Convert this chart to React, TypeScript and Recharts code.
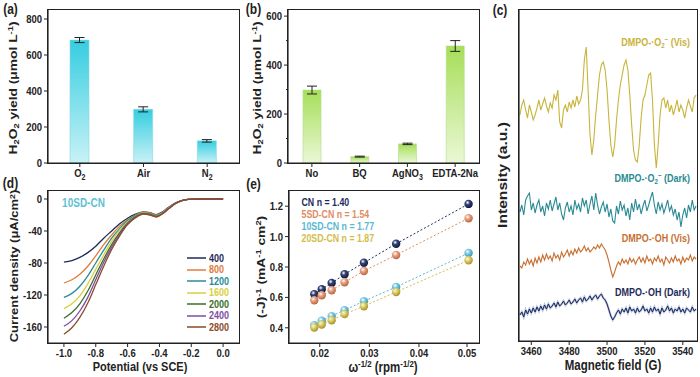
import React from "react";
import {
    BarChart,
    Bar,
    ErrorBar,
    LineChart,
    Line,
    XAxis,
    YAxis,
    Legend,
} from "recharts";

const FONT = "'Liberation Sans', Arial, Helvetica, sans-serif";
const INK = "#222";
// text in the source figure is drawn a bit taller than wide
const STRETCH = 1.2;

// (a) H2O2 yield under different atmospheres
const gasNames = ["O2", "Air", "N2"];
const gasYield = [683, 298, 123];
const gasErr = [14, 14, 7];

// (b) scavenger experiments
const scavNames = ["No", "BQ", "AgNO3", "EDTA-2Na"];
const scavYield = [298, 26, 78, 478];
const scavErr = [16, 2, 3, 22];

// (c) EPR spectra, stacked (a.u.)
const field = [
    3454, 3455, 3456, 3457, 3458, 3459, 3460, 3461, 3462, 3463,
    3464, 3465, 3466, 3467, 3468, 3469, 3470, 3471, 3472, 3473,
    3474, 3475, 3476, 3477, 3478, 3479, 3480, 3481, 3482, 3483,
    3484, 3485, 3486, 3487, 3488, 3489, 3490, 3491, 3492, 3493,
    3494, 3495, 3496, 3497, 3498, 3499, 3500, 3501, 3502, 3503,
    3504, 3505, 3506, 3507, 3508, 3509, 3510, 3511, 3512, 3513,
    3514, 3515, 3516, 3517, 3518, 3519, 3520, 3521, 3522, 3523,
    3524, 3525, 3526, 3527, 3528, 3529, 3530, 3531, 3532, 3533,
    3534, 3535, 3536, 3537, 3538, 3539, 3540, 3541, 3542, 3543,
    3544, 3545, 3546, 3547,
];
const o2Vis = [
    226, 236, 241, 231, 223, 236, 229, 221, 226, 233,
    241, 231, 237, 243, 235, 229, 238, 233, 246, 241,
    251, 219, 213, 231, 236, 229, 239, 233, 241, 234,
    245, 237, 241, 251, 281, 294, 251, 206, 186, 201,
    226, 246, 266, 276, 279, 271, 251, 221, 196, 184,
    196, 221, 241, 256, 266, 276, 281, 271, 246, 216,
    191, 181, 179, 196, 223, 241, 246, 256, 266, 268,
    241, 196, 173, 196, 226, 241, 243, 233, 241, 229,
    236, 226, 233, 241, 229, 236, 231, 223, 233, 241,
    235, 229, 243, 246,
];
const o2Dark = [
    129, 136, 126, 141, 145, 148, 131, 138, 128, 136,
    141, 129, 135, 125, 138, 132, 141, 130, 137, 144,
    131, 138, 127, 121, 133, 139, 129, 135, 126, 141,
    132, 137, 129, 143, 135, 141, 127, 137, 145, 131,
    148, 136, 127, 134, 139, 129, 137, 124, 132, 120,
    118, 135, 127, 140, 131, 136, 125, 133, 121, 138,
    129, 142, 131, 137, 127, 135, 141, 130, 136, 143,
    149, 136, 127, 139, 131, 137, 128, 134, 141, 130,
    135, 126, 132, 121, 129, 114, 126, 133, 123, 136,
    129, 141, 131, 135,
];
const ohVis = [
    75, 73, 79, 76, 82, 77, 81, 75, 83, 78,
    84, 79, 86, 81, 87, 82, 85, 80, 88, 83,
    86, 81, 89, 84, 87, 91, 85, 90, 86, 92,
    88, 93, 89, 91, 95, 90, 93, 89, 91, 94,
    92, 96, 93, 97, 94, 91, 86, 79, 71, 64,
    69, 75, 79, 76, 82, 78, 81, 77, 83, 79,
    82, 77, 81, 84, 79, 83, 78, 85, 80, 82,
    77, 83, 80, 85, 79, 82, 76, 84, 81, 78,
    83, 79, 85, 80, 82, 77, 84, 79, 83, 81,
    86, 80, 84, 82,
];
const ohDark = [
    26, 29, 24, 31, 27, 32, 28, 33, 29, 34,
    30, 35, 31, 36, 32, 37, 33, 35, 38, 34,
    39, 35, 37, 40, 36, 38, 41, 37, 39, 42,
    38, 41, 43, 39, 44, 40, 42, 45, 41, 44,
    46, 42, 45, 47, 43, 41, 37, 31, 25, 21,
    24, 28, 31, 27, 32, 29, 33, 28, 34, 30,
    32, 28, 33, 29, 31, 35, 30, 32, 28, 33,
    29, 34, 30, 32, 27, 33, 29, 31, 35, 30,
    33, 28, 32, 30, 34, 29, 32, 28, 33, 31,
    29, 34, 30, 32,
];

// (d) LSV of 10SD-CN at different rotation speeds
const potential = [
    -1.0, -0.95, -0.9, -0.85, -0.8, -0.75, -0.7, -0.65, -0.6, -0.55, -0.5,
    -0.46, -0.42, -0.38, -0.34, -0.3, -0.26, -0.22, -0.15, -0.05, 0.0,
];
const rpm = [400, 800, 1200, 1600, 2000, 2400, 2800];
const j400 = [-79, -77, -73, -67, -59, -49, -40, -31, -24, -19, -16, -17, -19.5, -16, -10, -5, -2, -0.5, 0, 0, 0];
const j800 = [-105, -101, -94, -84, -71, -57, -45, -34, -26, -20, -16.5, -17.5, -20, -16.5, -10.5, -5, -2, -0.5, 0, 0, 0];
const j1200 = [-123, -118, -109, -96, -80, -64, -49, -37, -27, -20.5, -17, -18, -20.5, -17, -11, -5.5, -2, -0.5, 0, 0, 0];
const j1600 = [-137, -131, -121, -106, -88, -70, -53, -39, -28.5, -21.5, -17.5, -18.5, -21, -17.5, -11, -5.5, -2, -0.5, 0, 0, 0];
const j2000 = [-149, -142, -131, -115, -95, -75, -57, -42, -30, -22, -18, -19, -21.5, -18, -11.5, -5.5, -2, -0.5, 0, 0, 0];
const j2400 = [-159, -152, -140, -123, -101, -79, -60, -44, -31, -23, -18.5, -19.5, -22, -18, -11.5, -5.5, -2, -0.5, 0, 0, 0];
const j2800 = [-169, -161, -148, -130, -107, -84, -63, -46, -32, -23.5, -19, -20, -22.5, -18.5, -12, -6, -2, -0.5, 0, 0, 0];
const lsvColors = ["#1f2a5a", "#e07c3c", "#2a8c98", "#d8d040", "#3a6e2a", "#7e4fa0", "#8c4a28"];

// (e) K-L plots
const omega = [0.0189, 0.0204, 0.0224, 0.025, 0.0289, 0.0354, 0.05];
const klSamples = ["CN", "5SD-CN", "10SD-CN", "20SD-CN"];
const klN = [1.4, 1.54, 1.77, 1.87];
const klCN = [0.621, 0.654, 0.695, 0.752, 0.828, 0.953, 1.215];
const kl5 = [0.581, 0.614, 0.647, 0.7, 0.774, 0.879, 1.121];
const kl10 = [0.417, 0.446, 0.477, 0.516, 0.575, 0.669, 0.892];
const kl20 = [0.402, 0.422, 0.45, 0.49, 0.542, 0.636, 0.844];
const klColors = ["#1e2b5c", "#e08c64", "#5ab8d0", "#d2be4c"];
const klBall = [
    ["#34447a", "#111a3c"],
    ["#eaa486", "#b8683f"],
    ["#80cde2", "#3a96b4"],
    ["#e2d06a", "#a8942c"],
];

const gasData = gasNames.map((name, i) => ({ name, value: gasYield[i], err: gasErr[i] }));
const scavData = scavNames.map((name, i) => ({ name, value: scavYield[i], err: scavErr[i] }));
const eprData = field.map((g, i) => ({
    g,
    o2Vis: o2Vis[i],
    o2Dark: o2Dark[i],
    ohVis: ohVis[i],
    ohDark: ohDark[i],
}));
const lsvSeries = [j400, j800, j1200, j1600, j2000, j2400, j2800];
const lsvData = potential.map((e, i) => {
    const row: Record<string, number> = { e };
    rpm.forEach((r, k) => (row["r" + r] = lsvSeries[k][i]));
    return row;
});
const klSeries = [klCN, kl5, kl10, kl20];
const klData = omega.map((w, i) => {
    const row: Record<string, number> = { w };
    klSeries.forEach((s, k) => (row["s" + k] = s[i]));
    return row;
});

// panel layouts: chart box, y-axis width, x-axis height
interface Panel {
    left: number;
    top: number;
    w: number;
    h: number;
    yw: number;
    xh: number;
}
const MT = 10;
const MR = 2;
const panelA: Panel = { left: 0, top: 0, w: 241, h: 190, yw: 48, xh: 27 };
const panelB: Panel = { left: 240, top: 0, w: 241, h: 190, yw: 48, xh: 27 };
const panelC: Panel = { left: 481, top: 0, w: 218, h: 377, yw: 38, xh: 36 };
const panelD: Panel = { left: 0, top: 181, w: 241, h: 196, yw: 48, xh: 34 };
const panelE: Panel = { left: 241, top: 181, w: 240, h: 196, yw: 48, xh: 34 };
const margin = { top: MT, right: MR, left: 0, bottom: 0 };

const axisStyle = { stroke: INK, strokeWidth: 1.2 };

// closed frame round a plot area
const PlotBox: React.FC<{ p: Panel }> = ({ p }) => (
    <div
        style={{
            position: "absolute",
            left: p.left + p.yw - 0.6,
            top: p.top + MT - 0.6,
            width: p.w - p.yw - MR + 1.2,
            height: p.h - MT - p.xh + 1.2,
            border: `1.2px solid ${INK}`,
            boxSizing: "border-box",
            pointerEvents: "none",
        }}
    />
);

const isMajor = (majors: number[], v: number) =>
    majors.some((m) => Math.abs(m - v) < 1e-9);

const tickText = (x: number, y: number, anchor: string, dy: string, content: React.ReactNode) => (
    <text
        transform={`translate(${x},${y}) scale(1,${STRETCH})`}
        textAnchor={anchor}
        dy={dy}
        fontSize={9.5}
        fontWeight="bold"
        fontFamily={FONT}
        fill={INK}
    >
        {content}
    </text>
);

// left axis tick: recharts gives the label position (axis - tickSize - tickMargin)
const leftTick = (majors: number[], fmt: (v: number) => string) => (p: any) => {
    const v = p.payload.value;
    const major = isMajor(majors, v);
    const ax = p.x + 6;
    return (
        <g>
            <line x1={ax} x2={ax - (major ? 4 : 2)} y1={p.y} y2={p.y} stroke={INK} strokeWidth={1} />
            {major && tickText(ax - 6, p.y, "end", "0.35em", fmt(v))}
        </g>
    );
};

const bottomTick = (majors: number[], fmt: (v: number) => string) => (p: any) => {
    const v = p.payload.value;
    const major = isMajor(majors, v);
    const ay = p.y - 6;
    return (
        <g>
            <line x1={p.x} x2={p.x} y1={ay} y2={ay + (major ? 4 : 2)} stroke={INK} strokeWidth={1} />
            {major && tickText(p.x, ay + 6, "middle", "0.71em", fmt(v))}
        </g>
    );
};

const catTick = (p: any) => {
    const label = String(p.payload.value);
    const m = label.match(/^(.*\D)(\d)$/);
    const ay = p.y - 6;
    return (
        <g>
            <line x1={p.x} x2={p.x} y1={ay} y2={ay + 4} stroke={INK} strokeWidth={1} />
            {tickText(
                p.x,
                ay + 6,
                "middle",
                "0.71em",
                m ? (
                    <>
                        <tspan>{m[1]}</tspan>
                        <tspan fontSize={7} dy={2.5}>
                            {m[2]}
                        </tspan>
                    </>
                ) : (
                    label
                )
            )}
        </g>
    );
};

const Sub = ({ children }: { children: React.ReactNode }) => (
    <span style={{ fontSize: "0.68em", position: "relative", top: "0.3em" }}>{children}</span>
);
const Sup = ({ children }: { children: React.ReactNode }) => (
    <span style={{ fontSize: "0.68em", position: "relative", top: "-0.45em" }}>{children}</span>
);

interface TxtProps {
    x: number;
    y: number;
    size: number;
    rot?: boolean;
    anchor?: "start" | "middle" | "end";
    color?: string;
    children: React.ReactNode;
}

const Txt: React.FC<TxtProps> = ({ x, y, size, rot, anchor = "middle", color = INK, children }) => {
    const tx = anchor === "middle" ? "-50%" : anchor === "end" ? "-100%" : "0";
    return (
        <div style={{ position: "absolute", left: x, top: y, width: 0, height: 0 }}>
            <div
                style={{
                    position: "absolute",
                    left: 0,
                    top: 0,
                    whiteSpace: "nowrap",
                    transformOrigin: "0 0",
                    transform: `scaleY(${STRETCH}) ${rot ? "rotate(-90deg) " : ""}translate(${tx},-50%)`,
                    font: `bold ${size}px ${FONT}`,
                    lineHeight: 1,
                    color,
                }}
            >
                {children}
            </div>
        </div>
    );
};

const Frame: React.FC<{ p: Panel; children: React.ReactNode }> = ({ p, children }) => (
    <div style={{ position: "absolute", left: p.left, top: p.top }}>{children}</div>
);

const YieldBars: React.FC<{
    p: Panel;
    data: { name: string; value: number; err: number }[];
    max: number;
    majors: number[];
    minors: number[];
    gradId: string;
    top: string;
    bottom: string;
    edge: string;
    barSize: number;
}> = ({ p, data, max, majors, minors, gradId, top, bottom, edge, barSize }) => (
    <BarChart width={p.w} height={p.h} data={data} margin={margin}>
        <defs>
            <linearGradient id={gradId} x1="0" y1="0" x2="0" y2="1">
                <stop offset="0%" stopColor={top} />
                <stop offset="100%" stopColor={bottom} />
            </linearGradient>
        </defs>
        <XAxis
            dataKey="name"
            type="category"
            interval={0}
            height={p.xh}
            tickSize={4}
            tickMargin={2}
            tickLine={false}
            axisLine={axisStyle}
            tick={catTick}
        />
        <YAxis
            type="number"
            domain={[0, max]}
            ticks={[...majors, ...minors].sort((a, b) => a - b)}
            width={p.yw}
            tickSize={4}
            tickMargin={2}
            tickLine={false}
            axisLine={axisStyle}
            tick={leftTick(majors, (v) => String(v))}
            allowDataOverflow
        />
        <Bar dataKey="value" fill={`url(#${gradId})`} stroke={edge} strokeWidth={0.6} barSize={barSize} isAnimationActive={false}>
            <ErrorBar dataKey="err" width={5} stroke={INK} strokeWidth={1} />
        </Bar>
    </BarChart>
);

const legendOrder = (payload: any[]) =>
    (payload || []).slice().sort((a, b) => String(a.dataKey).localeCompare(String(b.dataKey), undefined, { numeric: true }));

const App: React.FC = () => {
    return (
        <div
            style={{
                position: "absolute",
                left: 0,
                top: 0,
                width: 700,
                height: 377,
                background: "#fff",
                fontFamily: FONT,
                overflow: "hidden",
            }}
        >
            {/* (a) */}
            <Frame p={panelA}>
                <YieldBars
                    p={panelA}
                    data={gasData}
                    max={850}
                    majors={[0, 200, 400, 600, 800]}
                    minors={[100, 300, 500, 700]}
                    gradId="gradA"
                    top="#36cde0"
                    bottom="#c8f2f7"
                    edge="#86d6e2"
                    barSize={19}
                />
            </Frame>

            {/* (b) */}
            <Frame p={panelB}>
                <YieldBars
                    p={panelB}
                    data={scavData}
                    max={625}
                    majors={[0, 200, 400, 600]}
                    minors={[100, 300, 500]}
                    gradId="gradB"
                    top="#a6de58"
                    bottom="#eaf8d6"
                    edge="#b4dc8a"
                    barSize={18}
                />
            </Frame>

            {/* (c) */}
            <Frame p={panelC}>
                <LineChart width={panelC.w} height={panelC.h} data={eprData} margin={margin}>
                    <XAxis
                        dataKey="g"
                        type="number"
                        domain={[3453.5, 3547.5]}
                        ticks={[3460, 3470, 3480, 3490, 3500, 3510, 3520, 3530, 3540]}
                        height={panelC.xh}
                        tickSize={4}
                        tickMargin={2}
                        tickLine={false}
                        axisLine={axisStyle}
                        tick={bottomTick([3460, 3480, 3500, 3520, 3540], (v) => String(v))}
                        allowDataOverflow
                    />
                    <YAxis type="number" domain={[0, 331]} width={panelC.yw} tick={false} tickLine={false} axisLine={axisStyle} />
                    <Line dataKey="o2Vis" type="linear" stroke="#c8b43a" strokeWidth={1.1} dot={false} isAnimationActive={false} />
                    <Line dataKey="o2Dark" type="linear" stroke="#2a8a94" strokeWidth={1.1} dot={false} isAnimationActive={false} />
                    <Line dataKey="ohVis" type="linear" stroke="#c86e30" strokeWidth={1.1} dot={false} isAnimationActive={false} />
                    <Line dataKey="ohDark" type="linear" stroke="#b4c0d8" strokeWidth={2.2} dot={false} isAnimationActive={false} />
                    <Line dataKey="ohDark" type="linear" stroke="#1e2a5a" strokeWidth={1} dot={false} isAnimationActive={false} />
                </LineChart>
            </Frame>

            {/* (d) */}
            <Frame p={panelD}>
                <LineChart width={panelD.w} height={panelD.h} data={lsvData} margin={margin}>
                    <XAxis
                        dataKey="e"
                        type="number"
                        domain={[-1.1, 0.1]}
                        ticks={[-1.0, -0.9, -0.8, -0.7, -0.6, -0.5, -0.4, -0.3, -0.2, -0.1, 0.0]}
                        height={panelD.xh}
                        tickSize={4}
                        tickMargin={2}
                        tickLine={false}
                        axisLine={axisStyle}
                        tick={bottomTick([-1.0, -0.8, -0.6, -0.4, -0.2, 0.0], (v) => v.toFixed(1))}
                        allowDataOverflow
                    />
                    <YAxis
                        type="number"
                        domain={[-180, 10]}
                        ticks={[-160, -140, -120, -100, -80, -60, -40, -20, 0]}
                        width={panelD.yw}
                        tickSize={4}
                        tickMargin={2}
                        tickLine={false}
                        axisLine={axisStyle}
                        tick={leftTick([-160, -120, -80, -40, 0], (v) => String(v))}
                        allowDataOverflow
                    />
                    {rpm.map((r, k) => (
                        <Line
                            key={r}
                            dataKey={"r" + r}
                            name={String(r)}
                            type="monotone"
                            stroke={lsvColors[k]}
                            strokeWidth={1.3}
                            dot={false}
                            isAnimationActive={false}
                        />
                    ))}
                    <Legend
                        layout="vertical"
                        align="center"
                        verticalAlign="middle"
                        wrapperStyle={{ left: 187, top: 71.5, width: 60 }}
                        content={(props: any) => (
                            <div>
                                {legendOrder(props.payload).map((e: any) => (
                                    <div key={e.value} style={{ display: "flex", alignItems: "center", height: 11.5 }}>
                                        <svg width={19} height={4} style={{ flexShrink: 0, display: "block" }}>
                                            <line x1={0} x2={19} y1={2} y2={2} stroke={e.color} strokeWidth={1.5} />
                                        </svg>
                                        <span
                                            style={{
                                                marginLeft: 3,
                                                color: e.color,
                                                font: `bold 9px ${FONT}`,
                                                transform: `scaleY(${STRETCH})`,
                                                lineHeight: 1,
                                                whiteSpace: "nowrap",
                                            }}
                                        >
                                            {e.value}
                                        </span>
                                    </div>
                                ))}
                            </div>
                        )}
                    />
                </LineChart>
            </Frame>

            {/* (e) */}
            <Frame p={panelE}>
                <LineChart width={panelE.w} height={panelE.h} data={klData} margin={margin}>
                    <defs>
                        {klBall.map(([c, d], k) => (
                            <radialGradient key={k} id={"ball" + k} cx="38%" cy="34%" r="66%">
                                <stop offset="0%" stopColor="#ffffff" stopOpacity={0.85} />
                                <stop offset="38%" stopColor={c} />
                                <stop offset="100%" stopColor={d} />
                            </radialGradient>
                        ))}
                    </defs>
                    <XAxis
                        dataKey="w"
                        type="number"
                        domain={[0.0138, 0.0521]}
                        ticks={[0.015, 0.02, 0.025, 0.03, 0.035, 0.04, 0.045, 0.05]}
                        height={panelE.xh}
                        tickSize={4}
                        tickMargin={2}
                        tickLine={false}
                        axisLine={axisStyle}
                        tick={bottomTick([0.02, 0.03, 0.04, 0.05], (v) => v.toFixed(2))}
                        allowDataOverflow
                    />
                    <YAxis
                        type="number"
                        domain={[0.3, 1.3]}
                        ticks={[0.4, 0.5, 0.6, 0.7, 0.8, 0.9, 1.0, 1.1, 1.2]}
                        width={panelE.yw}
                        tickSize={4}
                        tickMargin={2}
                        tickLine={false}
                        axisLine={axisStyle}
                        tick={leftTick([0.4, 0.6, 0.8, 1.0, 1.2], (v) => v.toFixed(1))}
                        allowDataOverflow
                    />
                    {klSamples.map((s, k) => (
                        <Line
                            key={s}
                            dataKey={"s" + k}
                            name={`${s} n = ${klN[k].toFixed(2)}`}
                            type="linear"
                            stroke={klColors[k]}
                            strokeWidth={1}
                            strokeDasharray="2 2"
                            isAnimationActive={false}
                            activeDot={false}
                            dot={(p: any) => <circle key={p.index} cx={p.cx} cy={p.cy} r={4.2} fill={`url(#ball${k})`} />}
                        />
                    ))}
                    <Legend
                        layout="vertical"
                        align="center"
                        verticalAlign="middle"
                        wrapperStyle={{ left: 60.5, top: 15, width: 120 }}
                        content={(props: any) => (
                            <div>
                                {legendOrder(props.payload).map((e: any) => (
                                    <div
                                        key={e.value}
                                        style={{
                                            height: 12,
                                            display: "flex",
                                            alignItems: "center",
                                            color: e.color,
                                            font: `bold 8.8px ${FONT}`,
                                        }}
                                    >
                                        <span style={{ transform: `scaleY(${STRETCH})`, lineHeight: 1, whiteSpace: "nowrap" }}>{e.value}</span>
                                    </div>
                                ))}
                            </div>
                        )}
                    />
                </LineChart>
            </Frame>

            {/* frames round each plot */}
            <PlotBox p={panelA} />
            <PlotBox p={panelB} />
            <PlotBox p={panelC} />
            <PlotBox p={panelD} />
            <PlotBox p={panelE} />

            {/* panel letters */}
            <Txt x={10.5} y={9} size={12}>(a)</Txt>
            <Txt x={253.5} y={9} size={12}>(b)</Txt>
            <Txt x={500} y={10} size={12}>(c)</Txt>
            <Txt x={10.5} y={183} size={12}>(d)</Txt>
            <Txt x={253.5} y={184} size={12}>(e)</Txt>

            {/* axis titles */}
            <Txt x={14} y={88} size={11.5} rot>
                H<Sub>2</Sub>O<Sub>2</Sub> yield (μmol L<Sup>-1</Sup>)
            </Txt>
            <Txt x={257.5} y={88} size={11.5} rot>
                H<Sub>2</Sub>O<Sub>2</Sub> yield (μmol L<Sup>-1</Sup>)
            </Txt>
            <Txt x={502} y={175} size={13} rot>
                Intensity (a.u.)
            </Txt>
            <Txt x={613} y={366} size={11.5}>
                Magnetic field (G)
            </Txt>
            <Txt x={14} y={266} size={10.8} rot>
                Current density (μA/cm<Sup>2</Sup>)
            </Txt>
            <Txt x={140} y={366.5} size={11}>
                Potential (vs SCE)
            </Txt>
            <Txt x={261.5} y={267} size={11.5} rot>
                (-J)<Sup>-1</Sup> (mA<Sup>-1</Sup> cm<Sup>2</Sup>)
            </Txt>
            <Txt x={383} y={367.5} size={11.5}>
                ω<Sup>-1/2</Sup> (rpm<Sup>-1/2</Sup>)
            </Txt>

            {/* EPR trace labels */}
            <Txt x={690} y={43} size={9} anchor="end" color="#c8b43a">
                DMPO-·O<Sub>2</Sub>
                <Sup>−</Sup> (Vis)
            </Txt>
            <Txt x={690} y={179} size={9} anchor="end" color="#2a8a94">
                DMPO-·O<Sub>2</Sub>
                <Sup>−</Sup> (Dark)
            </Txt>
            <Txt x={690} y={239} size={9} anchor="end" color="#c86e30">
                DMPO-·OH (Vis)
            </Txt>
            <Txt x={690} y={293} size={9} anchor="end" color="#1e2a5a">
                DMPO-·OH (Dark)
            </Txt>

            {/* (d) sample tag */}
            <Txt x={83.5} y={203} size={10} color="#5ebfd6">
                10SD-CN
            </Txt>
        </div>
    );
};

export default App;
